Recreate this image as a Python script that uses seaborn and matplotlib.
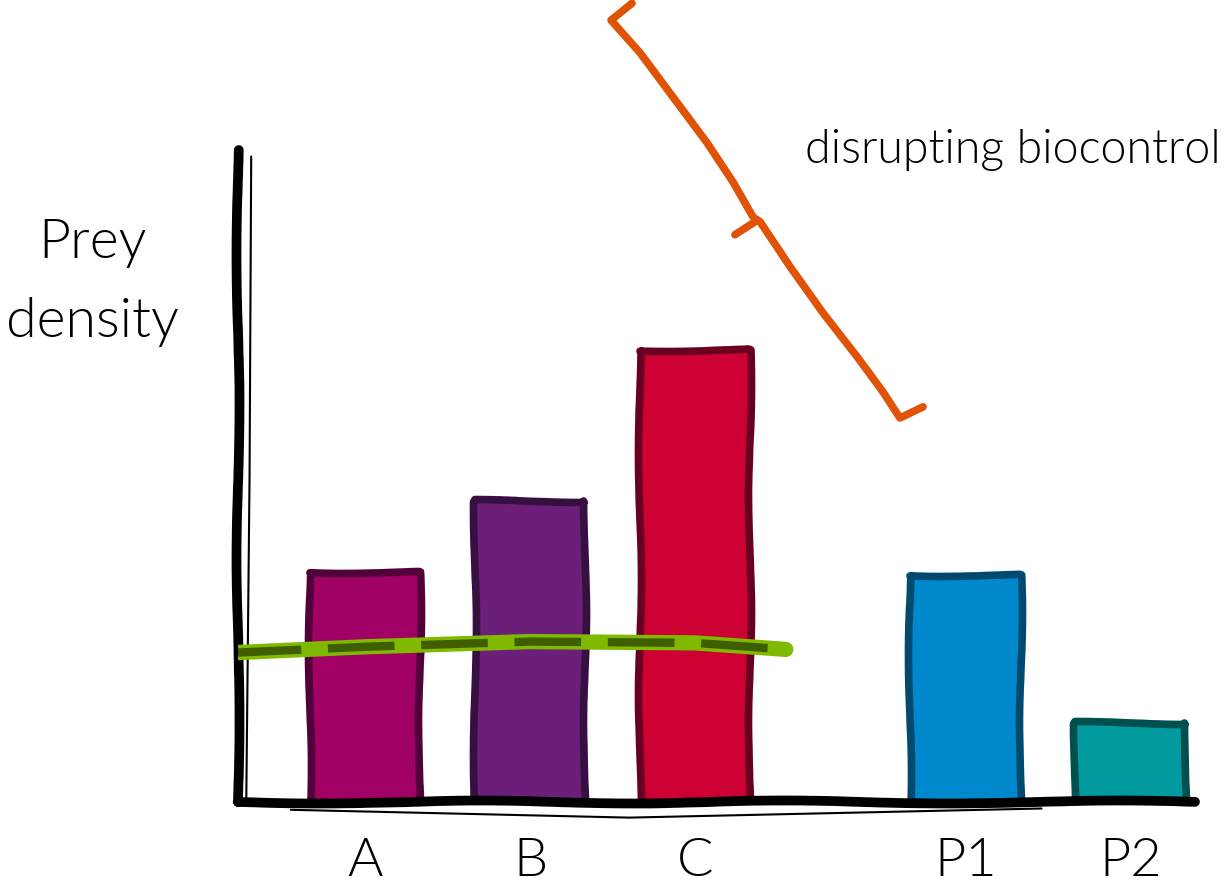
import numpy as np
import pandas as pd
import matplotlib
matplotlib.use("Agg")
import matplotlib.pyplot as plt
import seaborn as sns

# bar data (prey density per treatment)
categories = ["A", "B", "C", "P1", "P2"]
positions = [0.0, 1.0, 2.0, 3.64, 4.64]
heights = [35.3, 46.2, 69.3, 34.8, 12.1]
fill_colors = ["#A10064", "#6C1F78", "#CC0033", "#0088CC", "#009A9F"]
edge_colors = ["#52003A", "#361040", "#6A0020", "#004A70", "#00504F"]

# green reference level across A-C
level_x = [-0.79, 0.0, 1.0, 2.0, 2.55]
level_y = [22.9, 23.8, 24.6, 24.4, 23.4]

# orange bracket marking "disrupting biocontrol"
bracket_x = [1.618, 1.491, 1.667, 1.867, 2.073, 2.230, 2.352,
             2.394, 2.576, 2.776, 2.982, 3.139, 3.242, 3.382]
bracket_y = [122.5, 119.9, 114.9, 108.1, 101.1, 95.1, 89.7,
             89.0, 82.1, 75.0, 68.3, 62.9, 58.9, 60.6]
tick_x = [2.242, 2.364]
tick_y = [87.0, 89.0]

sns.set_style("white")
plt.rcParams["font.family"] = ["Lato", "DejaVu Sans"]
plt.rcParams["text.color"] = "black"
W = 300  # light

df = pd.DataFrame({"pos": positions, "height": heights, "cat": categories})

fig = plt.figure(figsize=(12.3, 8.89), dpi=100)
ax = fig.add_axes([0.1935, 0.0979, 0.778, 0.7334])

sns.barplot(data=df, x="pos", y="height", hue="cat", native_scale=True,
            palette=dict(zip(categories, fill_colors)), width=0.67,
            saturation=1, legend=False, ax=ax, zorder=2)
for patch, ec in zip(ax.patches, edge_colors):
    patch.set_edgecolor(ec)
    patch.set_linewidth(5.5)
    patch.set_joinstyle("round")
    patch.set_sketch_params(scale=1.5, length=300, randomness=3)

# green level line: light band with dark dashes on top
ax.plot(level_x, level_y, color="#7FBA00", lw=11, solid_capstyle="round", zorder=4)
ax.plot(level_x, level_y, color="#3F5E00", lw=6, dashes=(8, 3.2), zorder=5)

# bracket
ax.plot(bracket_x, bracket_y, color="#E05206", lw=5.5, clip_on=False,
        solid_joinstyle="round", zorder=6)
ax.plot(tick_x, tick_y, color="#E05206", lw=5.5, clip_on=False, zorder=6)
ax.text(2.667, 100, "disrupting biocontrol", fontsize=33.5, fontweight=W,
        color="black", va="center", ha="left", clip_on=False)

ax.set_xlim(-0.77, 5.03)
ax.set_ylim(0, 100)
ax.set_xticks(positions)
ax.set_xticklabels(categories, fontsize=39, fontweight=W, color="black")
ax.set_yticks([])
ax.set_xlabel("")
ax.set_ylabel("")
ax.tick_params(axis="x", length=0, pad=26)

for side in ["top", "right"]:
    ax.spines[side].set_visible(False)
for side in ["left", "bottom"]:
    ax.spines[side].set_color("black")
    ax.spines[side].set_linewidth(7)
    ax.spines[side].set_capstyle("round")
    ax.spines[side].set_sketch_params(scale=1.5, length=400, randomness=3)

# thin hand-drawn second strokes along the axes
ax.plot([-0.69, -0.70, -0.72], [99, 50, 0], color="black", lw=1.5, clip_on=False, zorder=1)
ax.plot([-0.45, 1.6, 4.1], [-1.2, -2.4, -1.0], color="black", lw=1.5, clip_on=False, zorder=1)

fig.text(0.075, 0.7098, "Prey", fontsize=40, fontweight=W, color="black",
         ha="center", va="baseline")
fig.text(0.075, 0.6209, "density", fontsize=40, fontweight=W, color="black",
         ha="center", va="baseline")

fig.savefig("out.png", dpi=100)
